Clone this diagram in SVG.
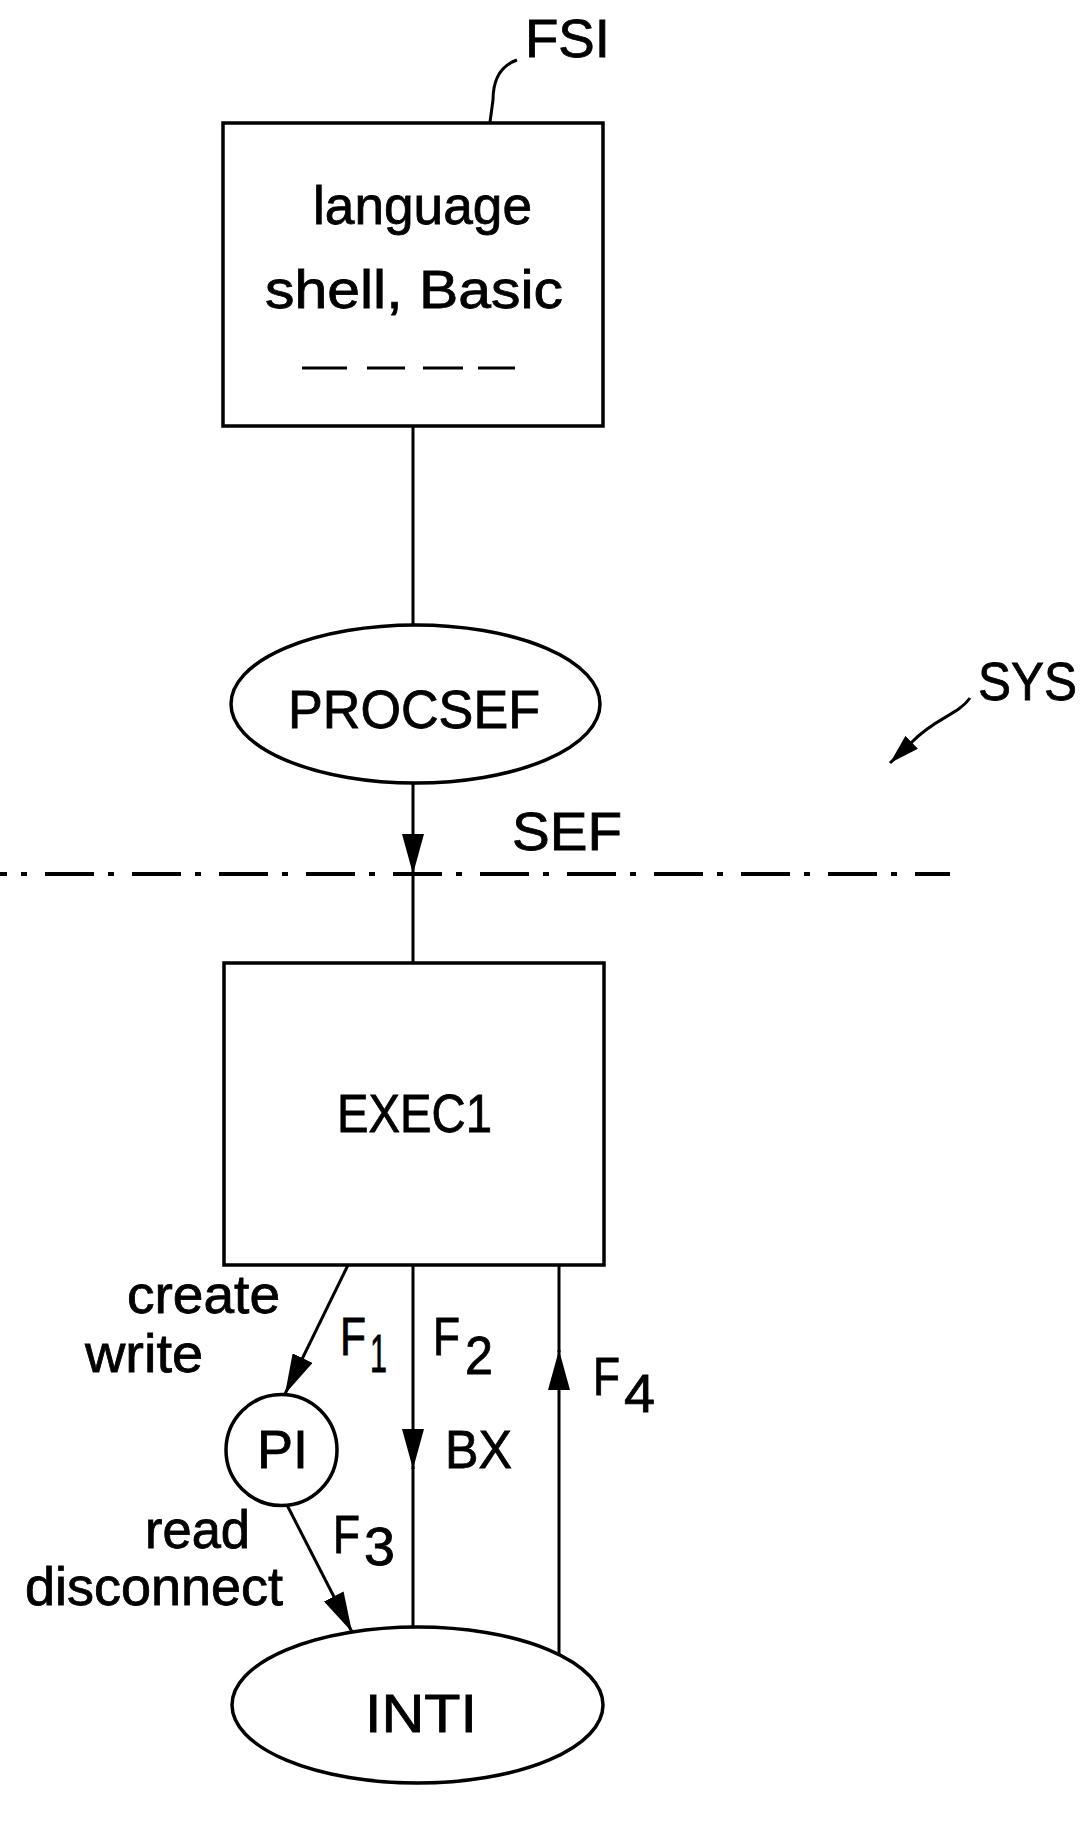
<svg xmlns="http://www.w3.org/2000/svg" width="1088" height="1840" viewBox="0 0 1088 1840">
<style>
.t{font-family:"Liberation Sans",Arial,sans-serif;font-size:53px;fill:#000;stroke:#000;stroke-width:0.8}
.s{fill:none;stroke:#000;stroke-width:3.5}
.c{fill:none;stroke:#000;stroke-width:3}
</style>
<defs>
<marker id="ah" viewBox="0 0 40 22" markerWidth="40" markerHeight="22" refX="40" refY="11" orient="auto" markerUnits="userSpaceOnUse">
<path d="M0,0 L40,11 L0,22 z" fill="#000"/>
</marker>
<marker id="ahs" viewBox="0 0 30 18" markerWidth="30" markerHeight="18" refX="30" refY="9" orient="auto" markerUnits="userSpaceOnUse">
<path d="M0,0 L30,9 L0,18 z" fill="#000"/>
</marker>
</defs>
<rect width="1088" height="1840" fill="#fff"/>

<g id="FSI">
<rect class="s" x="223" y="123" width="380" height="303"/>
<text class="t" x="313" y="224" textLength="219" lengthAdjust="spacingAndGlyphs">language</text>
<text class="t" x="265" y="308" textLength="298" lengthAdjust="spacingAndGlyphs">shell, Basic</text>
<path class="c" d="M302,368 H347 M367,368 H405 M423,368 H463 M478,368 H515"/>
<path class="c" d="M517,60 C500,66 493,80 493,100 L490,122"/>
<text class="t" x="525" y="57" textLength="85" lengthAdjust="spacingAndGlyphs">FSI</text>
</g>

<g id="PROCSEF">
<ellipse class="s" cx="415.5" cy="704" rx="184.5" ry="79"/>
<text class="t" x="288" y="728" textLength="252" lengthAdjust="spacingAndGlyphs">PROCSEF</text>
</g>

<g id="SEF">
<line x1="0" y1="874" x2="950" y2="874" stroke="#000" stroke-width="4" stroke-dasharray="49 14 6 18" stroke-dashoffset="42"/>
<text class="t" x="512" y="850" textLength="110" lengthAdjust="spacingAndGlyphs">SEF</text>
</g>

<g id="SYS">
<text class="t" x="978" y="700" textLength="99" lengthAdjust="spacingAndGlyphs">SYS</text>
<path class="c" d="M970,698 C958,715 935,718 912,742 L890,763" marker-end="url(#ahs)"/>
</g>

<g id="EXEC1">
<rect class="s" x="224" y="963" width="380" height="302"/>
<text class="t" x="337" y="1132" textLength="155" lengthAdjust="spacingAndGlyphs">EXEC1</text>
</g>

<g id="P1">
<circle class="s" cx="281.5" cy="1450" r="55.5"/>
<text class="t" x="257" y="1468" textLength="51" lengthAdjust="spacingAndGlyphs">PI</text>
</g>

<g id="INTI">
<ellipse class="s" cx="417.5" cy="1705" rx="185.5" ry="78"/>
<text class="t" x="365" y="1732" textLength="112" lengthAdjust="spacingAndGlyphs">INTI</text>
</g>

<g id="connectors">
<line class="c" x1="413" y1="426" x2="413" y2="625"/>
<line class="c" x1="413" y1="783" x2="413" y2="874" marker-end="url(#ah)"/>
<line class="c" x1="413" y1="872" x2="413" y2="963"/>
<line class="c" x1="348" y1="1265" x2="285" y2="1394" marker-end="url(#ah)"/>
<line class="c" x1="413" y1="1265" x2="413" y2="1469" marker-end="url(#ah)"/>
<line class="c" x1="413" y1="1466" x2="413" y2="1627"/>
<line class="c" x1="559" y1="1654" x2="559" y2="1350" marker-end="url(#ah)"/>
<line class="c" x1="559" y1="1352" x2="559" y2="1265"/>
<line class="c" x1="287" y1="1505" x2="352" y2="1632" marker-end="url(#ah)"/>
</g>

<g id="labels">
<text class="t" x="127" y="1313" textLength="153" lengthAdjust="spacingAndGlyphs">create</text>
<text class="t" x="85" y="1372" textLength="118" lengthAdjust="spacingAndGlyphs">write</text>
<text class="t" x="340" y="1355" textLength="26" lengthAdjust="spacingAndGlyphs">F</text>
<text class="t" x="370" y="1372" textLength="17" lengthAdjust="spacingAndGlyphs">1</text>
<text class="t" x="433" y="1355" textLength="27" lengthAdjust="spacingAndGlyphs">F</text>
<text class="t" x="465" y="1374" textLength="28" lengthAdjust="spacingAndGlyphs">2</text>
<text class="t" x="593" y="1395" textLength="27" lengthAdjust="spacingAndGlyphs">F</text>
<text class="t" x="624" y="1412" textLength="31" lengthAdjust="spacingAndGlyphs">4</text>
<text class="t" x="445" y="1468" textLength="67" lengthAdjust="spacingAndGlyphs">BX</text>
<text class="t" x="145" y="1548" textLength="105" lengthAdjust="spacingAndGlyphs">read</text>
<text class="t" x="333" y="1553" textLength="27" lengthAdjust="spacingAndGlyphs">F</text>
<text class="t" x="364" y="1565" textLength="31" lengthAdjust="spacingAndGlyphs">3</text>
<text class="t" x="25" y="1605" textLength="258" lengthAdjust="spacingAndGlyphs">disconnect</text>
</g>
</svg>
